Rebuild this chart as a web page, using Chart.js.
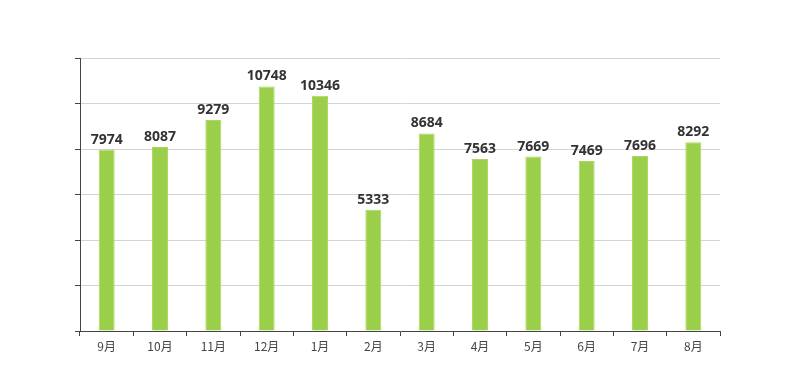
<!DOCTYPE html>
<html>
<head>
<meta charset="utf-8">
<script src="https://cdn.jsdelivr.net/npm/chart.js@4/dist/chart.umd.min.js"></script>
<style>
  html, body { margin: 0; padding: 0; background: #fff; }
  #wrap { width: 800px; height: 390px; position: relative; }
</style>
</head>
<body>
<div id="wrap"><canvas id="chart"></canvas></div>
<script>
const months = ['9月', '10月', '11月', '12月', '1月', '2月', '3月', '4月', '5月', '6月', '7月', '8月'];
const counts = [7974, 8087, 9279, 10748, 10346, 5333, 8684, 7563, 7669, 7469, 7696, 8292];
const yMax = 12000;
const yStep = 2000;

// draws the number above each bar
const valueLabels = {
    id: 'valueLabels',
    afterDatasetsDraw(chart) {
        let ctx = chart.ctx;
        let meta = chart.getDatasetMeta(0);
        ctx.save();
        ctx.font = 'bold 14px "Noto Sans", "DejaVu Sans", sans-serif';
        ctx.fillStyle = '#333';
        ctx.textAlign = 'center';
        ctx.textBaseline = 'bottom';
        meta.data.forEach(function(bar, i) {
            ctx.fillText(counts[i], bar.x, bar.y - 3);
        });
        ctx.restore();
    }
};

let ctx = document.getElementById('chart').getContext('2d');
new Chart(ctx, {
    type: 'bar',
    data: {
        labels: months,
        datasets: [{
            data: counts,
            backgroundColor: '#9bcf4a',
            borderColor: '#a9d866',
            borderWidth: 1,
            barPercentage: 0.3,
            categoryPercentage: 1
        }]
    },
    options: {
        responsive: true,
        maintainAspectRatio: false,
        animation: false,
        layout: {padding: {top: 58, right: 80, left: 0, bottom: 0}},
        plugins: {legend: {display: false}, tooltip: {enabled: false}},
        scales: {
            x: {
                grid: {display: true, drawOnChartArea: false, drawTicks: true, tickLength: 5, tickColor: '#444', offset: true},
                border: {color: '#444', width: 1},
                ticks: {color: '#444', font: {size: 12, family: '"Noto Sans CJK SC", "Noto Sans", sans-serif'}, padding: 3},
                afterFit: function(scale) { scale.height = 59; }
            },
            y: {
                min: 0,
                max: yMax,
                ticks: {display: false, stepSize: yStep},
                grid: {color: '#d4d4d4', tickColor: '#444', tickLength: 5, drawTicks: true},
                border: {color: '#444', width: 1},
                afterFit: function(scale) { scale.width = 80; }
            }
        }
    },
    plugins: [valueLabels]
});
</script>
</body>
</html>
